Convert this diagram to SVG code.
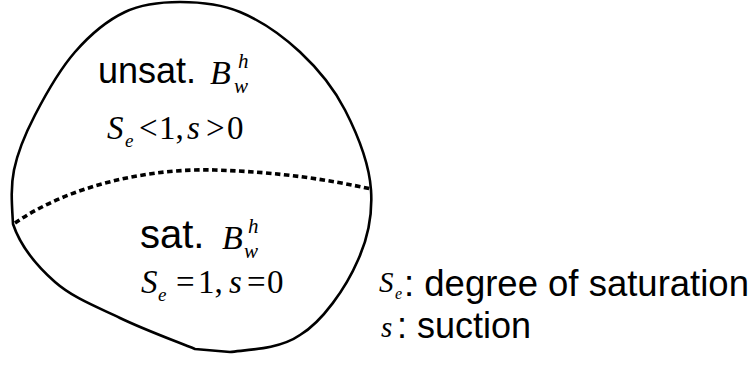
<svg xmlns="http://www.w3.org/2000/svg" width="750" height="366" viewBox="0 0 750 366">
<style>
.outline{fill:none;stroke:#000;stroke-width:2.6;stroke-linejoin:round}
.dash{fill:none;stroke:#000;stroke-width:3.6;stroke-dasharray:5.5 3.5}
.sans{font-family:"Liberation Sans",Arial,sans-serif;fill:#000}
.mi{font-family:"Liberation Serif","Times New Roman",serif;font-style:italic;fill:#000}
.mr{font-family:"Liberation Serif","Times New Roman",serif;fill:#000}
</style>
<rect width="750" height="366" fill="#fff"/>
<g id="domain">
<path class="outline" d="M13,224 C12,206 10.3,188.2 14,170 C17.7,151.8 24.8,134.7 35,115 C45.2,95.3 60,69.2 75,52 C90,34.8 107.5,20.3 125,12 C142.5,3.7 160.8,2 180,2 C199.2,2 220,3.7 240,12 C260,20.3 282.5,35.7 300,52 C317.5,68.3 333.2,87 345,110 C356.8,133 369.3,164.2 371,190 C372.7,215.8 368,238 358,260 C346,288 322,322 300,335 C279.2,349.5 247.5,349.7 230,352 L195,349 C170,339 143.3,329.2 120,318 C96.7,306.8 72.8,297.7 55,282 C37.2,266.3 20,245 13,224 Z"/>
</g>
<g id="connectors">
<path class="dash" d="M15,223 C70,185 150,168 215,170 C280,172 330,180 371,189"/>
</g>
<g id="unsat">
<text class="sans" x="98" y="83" font-size="36">unsat.</text>
<text class="mi" x="210" y="84" font-size="34">B</text>
<text class="mi" x="238" y="68" font-size="21">h</text>
<text class="mi" x="234" y="93" font-size="21">w</text>
<text class="mi" x="107" y="139" font-size="33">S</text>
<text class="mi" x="125" y="147" font-size="19">e</text>
<text class="mr" x="139" y="139" font-size="33">&lt;</text>
<text class="mr" x="159" y="139" font-size="33">1,</text>
<text class="mi" x="187" y="139" font-size="33">s</text>
<text class="mr" x="206" y="139" font-size="33">&gt;</text>
<text class="mr" x="227" y="139" font-size="33">0</text>
</g>
<g id="sat">
<text class="sans" x="140" y="248" font-size="40">sat.</text>
<text class="mi" x="222" y="249" font-size="34">B</text>
<text class="mi" x="248" y="233" font-size="21">h</text>
<text class="mi" x="244" y="258" font-size="21">w</text>
<text class="mi" x="141" y="293" font-size="33">S</text>
<text class="mi" x="158" y="301" font-size="19">e</text>
<text class="mr" x="176" y="293" font-size="33">=</text>
<text class="mr" x="198" y="293" font-size="33">1,</text>
<text class="mi" x="229" y="293" font-size="33">s</text>
<text class="mr" x="247" y="293" font-size="33">=</text>
<text class="mr" x="267" y="293" font-size="33">0</text>
</g>
<g id="legend">
<text class="mi" x="379" y="292" font-size="29">S</text>
<text class="mi" x="395" y="299" font-size="16">e</text>
<text class="sans" x="404" y="296" font-size="36.5">: degree of saturation</text>
<text class="mi" x="381" y="337" font-size="29">s</text>
<text class="sans" x="397" y="338" font-size="36">: suction</text>
</g>
</svg>
